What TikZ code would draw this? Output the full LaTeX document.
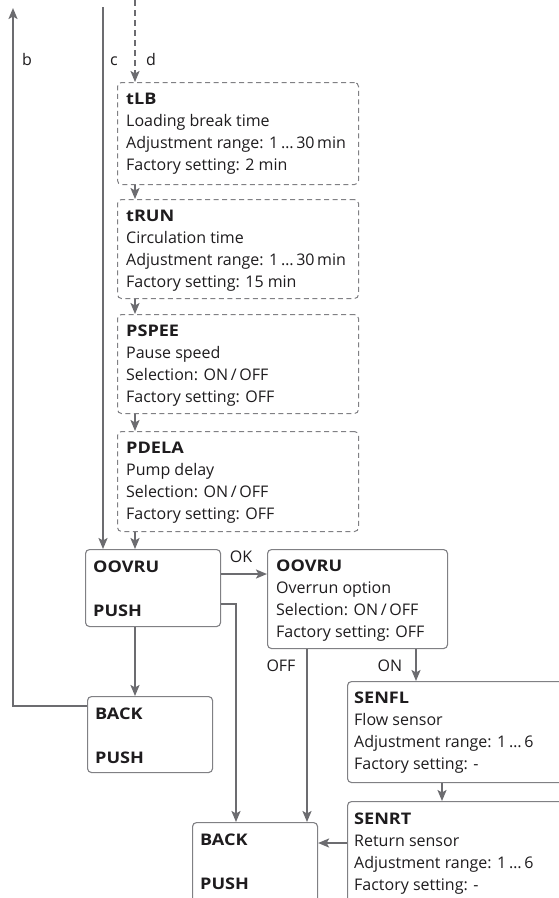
\documentclass[tikz,border=0pt]{standalone}
\usepackage{fontspec}
\setmainfont{Open Sans}[BoldFeatures={FakeStretch=1.13}]
\usetikzlibrary{arrows.meta}
\definecolor{linegray}{RGB}{108,108,112}
\definecolor{boxgray}{RGB}{128,128,132}
\definecolor{txt}{RGB}{30,28,30}
\begin{document}
\begin{tikzpicture}[x=1pt,y=-1pt,
  every node/.style={font=\fontsize{16}{21.8}\selectfont, text=txt},
  txtblk/.style={anchor=base west, align=left, inner sep=0pt},
  lbl/.style={anchor=base, inner sep=0pt},
  dbox/.style={draw=boxgray, line width=1pt, dash pattern=on 5pt off 3.5pt, rounded corners=4pt, anchor=north west, inner sep=0pt},
  sbox/.style={draw=boxgray, line width=1.1pt, rounded corners=4pt, anchor=north west, inner sep=0pt},
  arr/.style={draw=linegray, line width=2pt, -{Stealth[length=11pt,width=9pt,inset=2.5pt]}},
  dashedarr/.style={arr, dash pattern=on 6pt off 4pt}]
\clip (0,0) rectangle (559,898);
\fill[white] (0,0) rectangle (559,898);

% boxes
\node[dbox, minimum width=241pt, minimum height=102pt] (tlb) at (117,82) {};
\node[dbox, minimum width=241pt, minimum height=99pt] (trun) at (117,199) {};
\node[dbox, minimum width=241pt, minimum height=99pt] (pspee) at (117,314) {};
\node[dbox, minimum width=241pt, minimum height=100pt] (pdela) at (117,431) {};
\node[sbox, minimum width=135pt, minimum height=77pt] (oovru1) at (85,549) {};
\node[sbox, minimum width=125pt, minimum height=76pt] (back1) at (87,696) {};
\node[sbox, minimum width=180pt, minimum height=99pt] (oovru2) at (267,549) {};
\node[sbox, minimum width=230pt, minimum height=101pt] (senfl) at (347,681) {};
\node[sbox, minimum width=230pt, minimum height=120pt] (senrt) at (347,801) {};
\node[sbox, minimum width=125pt, minimum height=100pt] (back2) at (192,822) {};

% texts (anchor = baseline of the last line)
\node[txtblk] (tlbt) at (126,170) {\textbf{tLB}\\Loading break time\\Adjustment range: 1\,…\,30\,min\\Factory setting: 2 min};
\node[txtblk] (trunt) at (126,287) {\textbf{tRUN}\\Circulation time\\Adjustment range: 1\,…\,30\,min\\Factory setting: 15 min};
\node[txtblk] (pspeet) at (126,402) {\textbf{PSPEE}\\Pause speed\\Selection: ON\,/\,OFF\\Factory setting: OFF};
\node[txtblk] (pdelat) at (126,519) {\textbf{PDELA}\\Pump delay\\Selection: ON\,/\,OFF\\Factory setting: OFF};
\node[txtblk] (oovru1t) at (93,616) {\textbf{OOVRU}\\[22pt]\textbf{PUSH}};
\node[txtblk] (back1t) at (95,763) {\textbf{BACK}\\[22pt]\textbf{PUSH}};
\node[txtblk] (oovru2t) at (276,637) {\textbf{OOVRU}\\Overrun option\\Selection: ON\,/\,OFF\\Factory setting: OFF};
\node[txtblk] (senflt) at (354,769) {\textbf{SENFL}\\Flow sensor\\Adjustment range: 1\,…\,6\\Factory setting: -};
\node[txtblk] (senrtt) at (354,890) {\textbf{SENRT}\\Return sensor\\Adjustment range: 1\,…\,6\\Factory setting: -};
\node[txtblk] (back2t) at (200,889) {\textbf{BACK}\\[22pt]\textbf{PUSH}};

% helper coordinates
\coordinate (btop) at (13,8);
\coordinate (ctop) at (103,7);
\coordinate (dtop) at (135,0);
\coordinate (pushx) at (236,0);
\coordinate (offx) at (307,0);
\coordinate (onx) at (416,0);
\coordinate (snx) at (442,0);
\coordinate (okstart) at ([yshift=-25pt]oovru1.north east);
\coordinate (pushstart) at ([yshift=-55pt]oovru1.north east);
\coordinate (backout) at ([yshift=-10pt]back1.north west);
\coordinate (rsout) at ([yshift=-42pt]senrt.north west);

% connectors
\draw[arr] (backout) -| (btop);
\draw[arr] (ctop) -- (ctop |- oovru1.north);
\draw[dashedarr] (dtop) -- (tlb.north -| dtop);
\draw[arr] (tlb.south -| dtop) -- (trun.north -| dtop);
\draw[arr] (trun.south -| dtop) -- (pspee.north -| dtop);
\draw[arr] (pspee.south -| dtop) -- (pdela.north -| dtop);
\draw[arr] (pdela.south -| dtop) -- (oovru1.north -| dtop);
\draw[arr] (okstart) -- (okstart -| oovru2.west);
\draw[arr] (pushstart) -| (pushx |- back2.north);
\draw[arr] (oovru1.south -| dtop) -- (back1.north -| dtop);
\draw[arr] (oovru2.south -| offx) -- (back2.north -| offx);
\draw[arr] (oovru2.south -| onx) -- (senfl.north -| onx);
\draw[arr] (senfl.south -| snx) -- (senrt.north -| snx);
\draw[arr] (rsout) -- (rsout -| back2.east);

% labels
\node[lbl] (lb) at (27,65) {b};
\node[lbl] (lc) at (114,65) {c};
\node[lbl] (ld) at (151,65) {d};
\node[lbl] (lok) at (241,562) {OK};
\node[lbl] (loff) at (281,671) {OFF};
\node[lbl] (lon) at (390,671) {ON};
\end{tikzpicture}
\end{document}
